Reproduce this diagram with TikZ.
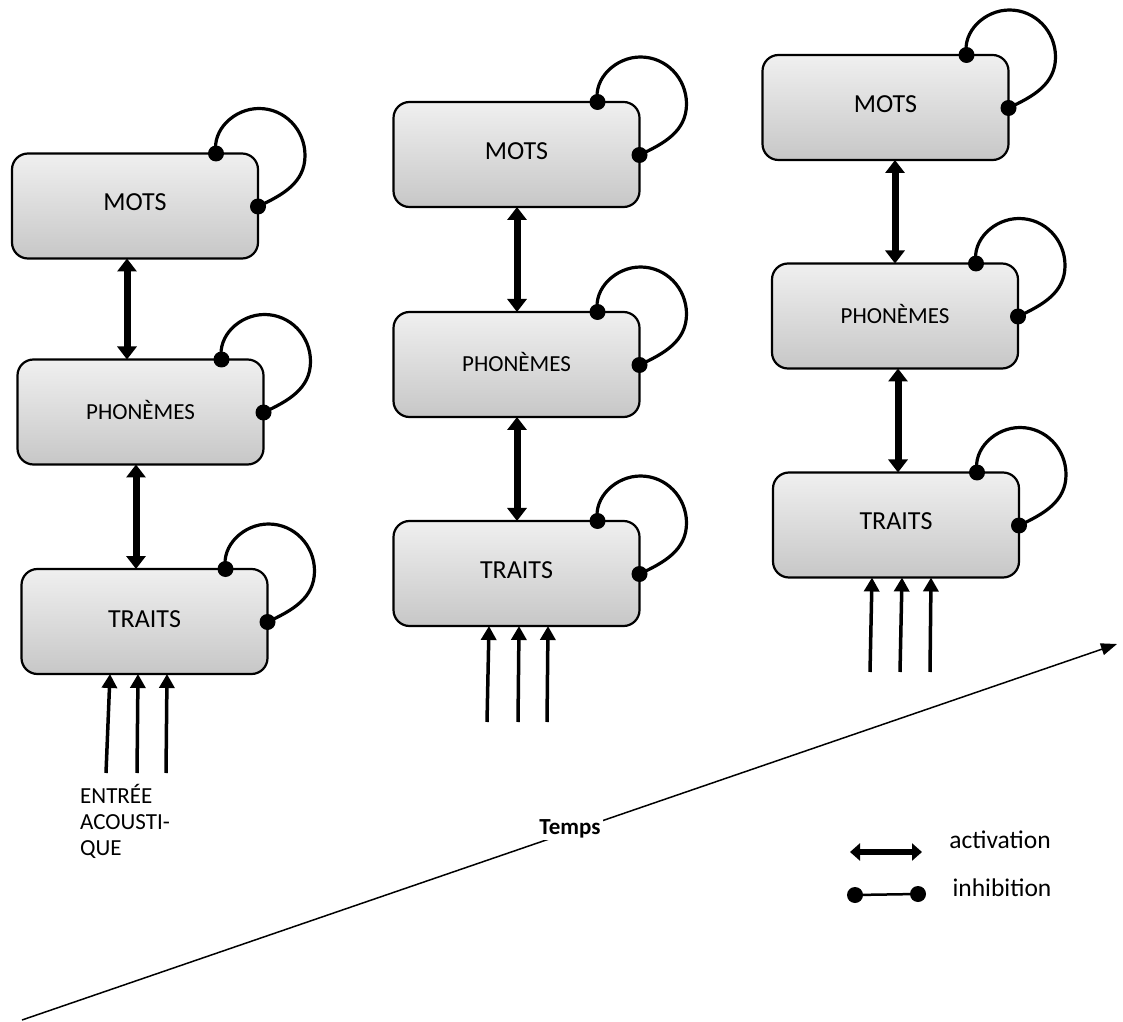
\documentclass[tikz,border=0pt]{standalone}
\usepackage{fontspec}
\setmainfont{Carlito}
\usetikzlibrary{arrows.meta,calc}

% self-inhibition loop on the upper right corner of a layer box
\newcommand\selfloop[1]{%
  \coordinate (#1-a) at ($(#1.north east)+(-42,0)$);
  \coordinate (#1-b) at ($(#1.north east)+(0,-53)$);
  \draw[loopline] (#1-a) to[out=100,in=180] ($(#1.north east)+(1,45)$)
    to[out=0,in=90] ($(#1.north east)+(47,-2)$)
    to[out=-90,in=25] (#1-b);
  \fill (#1-a) circle (8) (#1-b) circle (8);
}

\begin{document}
\begin{tikzpicture}[x=1pt,y=1pt,
  layer/.style={draw=black, line width=2.2pt, rounded corners=16pt,
    minimum width=246pt, minimum height=105pt, inner sep=0pt, outer sep=0pt,
    top color=gray!12, bottom color=gray!44,
    font=\fontsize{26}{30}\selectfont},
  small/.style={font=\fontsize{23}{27}\selectfont},
  act/.style={line width=7pt,
    {Triangle[length=13pt,width=19pt]}-{Triangle[length=13pt,width=19pt]}},
  input/.style={line width=3.5pt, -{Triangle[length=14pt,width=15pt]}},
  loopline/.style={line width=3.2pt},
  legend/.style={font=\fontsize{25.5}{30}\selectfont},
]
\useasboundingbox (0,0) rectangle (1123,1021);

% first time step
\node[layer] (m1) at (135,815) {\raisebox{7pt}{MOTS}};
\node[layer,small] (p1) at (140.5,609) {\raisebox{5pt}{PHONÈMES}};
\node[layer] (t1) at (144.5,399.5) {\raisebox{5pt}{TRAITS}};

% second time step
\node[layer] (m2) at (516.5,866.5) {\raisebox{7pt}{MOTS}};
\node[layer,small] (p2) at (516.5,656.5) {\raisebox{5pt}{PHONÈMES}};
\node[layer] (t2) at (516.5,447.5) {\raisebox{6pt}{TRAITS}};

% third time step
\node[layer] (m3) at (885.5,913.5) {\raisebox{7pt}{MOTS}};
\node[layer,small] (p3) at (895,705) {\raisebox{5pt}{PHONÈMES}};
\node[layer] (t3) at (896,496) {\raisebox{7pt}{TRAITS}};

% lateral inhibition inside each layer
\foreach \n in {m1,p1,t1,m2,p2,t2,m3,p3,t3} {\selfloop{\n}}

% bidirectional activation between layers
\draw[act] ([xshift=-8pt]m1.south) -- ([xshift=-13.5pt]p1.north);
\draw[act] ([xshift=-4.5pt]p1.south) -- ([xshift=-8.5pt]t1.north);
\draw[act] ([xshift=0.5pt]m2.south) -- ([xshift=0.5pt]p2.north);
\draw[act] ([xshift=0.5pt]p2.south) -- ([xshift=0.5pt]t2.north);
\draw[act] ([xshift=9.5pt]m3.south) -- ([xshift=0pt]p3.north);
\draw[act] ([xshift=3pt]p3.south) -- ([xshift=2pt]t3.north);

% acoustic input
\coordinate (i1a) at (106,248);
\coordinate (i1b) at (137,248);
\coordinate (i1c) at (166,248);
\draw[input] (i1a) -- ([xshift=-34.5pt]t1.south);
\draw[input] (i1b) -- ([xshift=-6.5pt]t1.south);
\draw[input] (i1c) -- ([xshift=22.5pt]t1.south);

\coordinate (i2a) at (487,299);
\coordinate (i2b) at (518,299);
\coordinate (i2c) at (547,299);
\draw[input] (i2a) -- ([xshift=-27.5pt]t2.south);
\draw[input] (i2b) -- ([xshift=2.5pt]t2.south);
\draw[input] (i2c) -- ([xshift=31.5pt]t2.south);

\coordinate (i3a) at (870,349);
\coordinate (i3b) at (900,349);
\coordinate (i3c) at (930,349);
\draw[input] (i3a) -- ([xshift=-24pt]t3.south);
\draw[input] (i3b) -- ([xshift=6pt]t3.south);
\draw[input] (i3c) -- ([xshift=35pt]t3.south);

\node[anchor=base west, inner sep=0pt] (entree) at (80,218)
  {\parbox[t]{120pt}{\raggedright\fontsize{23}{26}\selectfont
   ENTRÉE\\ACOUSTI-\\QUE}};

% time axis
\coordinate (time0) at (22,1);
\coordinate (time1) at (1117,377);
\draw[line width=1.5pt, -{Triangle[length=16pt,width=12pt]}] (time0) -- (time1);
\node[fill=white, inner sep=2pt, font=\bfseries\fontsize{23}{27}\selectfont]
  (temps) at (570,192) {Temps};

% legend
\coordinate (la0) at (850,169);
\coordinate (la1) at (922,169);
\draw[line width=6.5pt,
  {Triangle[length=10pt,width=17pt]}-{Triangle[length=10pt,width=17pt]}] (la0) -- (la1);
\node[legend] (lact) at (1000,181) {activation};

\coordinate (li0) at (855,126);
\coordinate (li1) at (918,127);
\draw[line width=2.5pt] (li0) -- (li1);
\fill (li0) circle (8) (li1) circle (8);
\node[legend] (linh) at (1002,133) {inhibition};
\end{tikzpicture}
\end{document}
